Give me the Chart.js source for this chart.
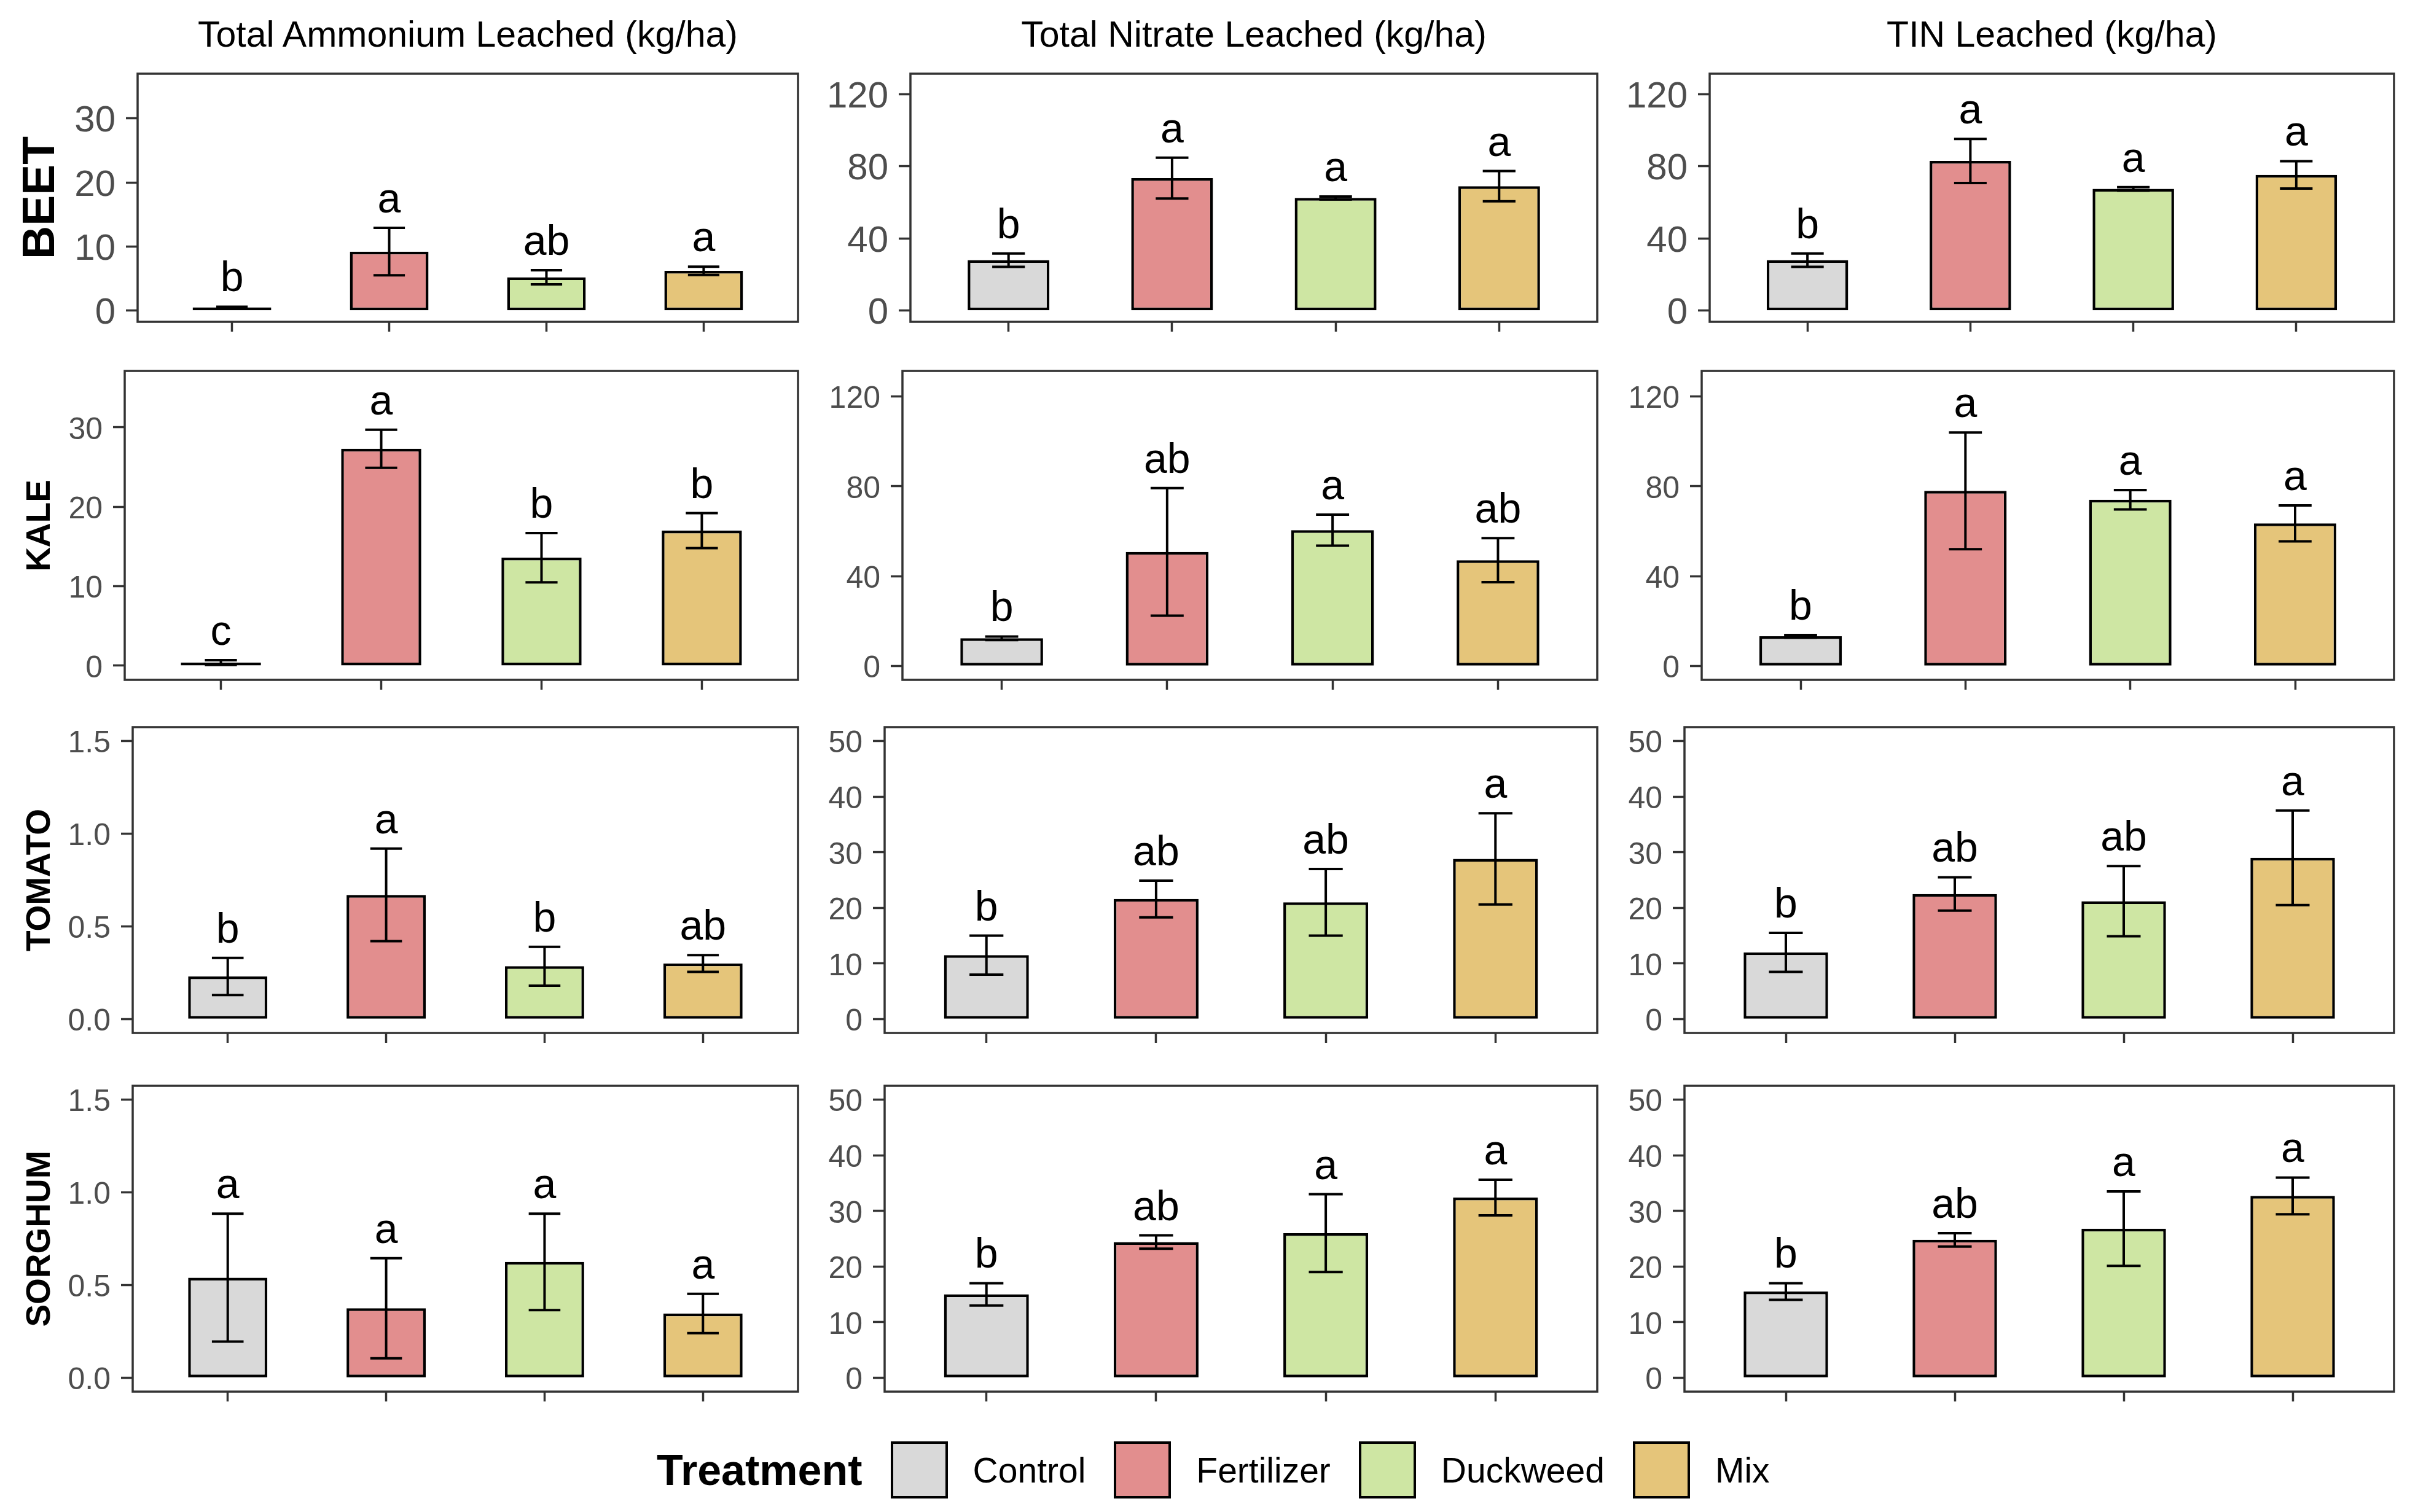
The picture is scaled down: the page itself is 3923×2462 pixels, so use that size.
<!DOCTYPE html>
<html>
<head>
<meta charset="utf-8">
<title>Nitrogen leached by crop and treatment</title>
<script src="https://cdn.jsdelivr.net/npm/chart.js@4.4.1/dist/chart.umd.min.js"></script>
<style>
  html, body { margin: 0; padding: 0; background: #fff; }
  body { width: 3923px; height: 2462px; position: relative; overflow: hidden;
         font-family: "Liberation Sans", Arial, sans-serif; }
  .panel { position: absolute; }
  .col-title { position: absolute; top: 27px; font-size: 59px; line-height: 59px; color: #000;
               white-space: nowrap; transform: translateX(-50%); }
  .row-label { position: absolute; font-weight: bold; color: #000; white-space: nowrap;
               line-height: 1; transform: translate(-50%, -50%) rotate(-90deg); }
  #legend { position: absolute; left: 1069px; top: 2347px; height: 93px;
            display: flex; align-items: center; white-space: nowrap; }
  #legend .lg-title { font-size: 70px; font-weight: bold; margin-right: 46px; }
  #legend .lg-key { width: 93px; height: 93px; box-sizing: border-box; border: 4px solid #000; }
  #legend .lg-text { font-size: 57px; margin-left: 41px; margin-right: 46px; }
</style>
</head>
<body>
<div id="legend"></div>
<script>
// ---- data ----
const treatments = ["Control", "Fertilizer", "Duckweed", "Mix"];
const crops = ["BEET", "KALE", "TOMATO", "SORGHUM"];
const measures = ["Total Ammonium Leached (kg/ha)", "Total Nitrate Leached (kg/ha)", "TIN Leached (kg/ha)"];

// rows = crops, columns = treatments
const ammoniumMean = [[0.5, 9.2, 5.2, 6.2], [0.4, 27.3, 13.6, 17.0], [0.23, 0.67, 0.285, 0.30], [0.54, 0.375, 0.625, 0.347]];
const ammoniumSE   = [[0.1, 3.7, 1.1, 0.65], [0.3, 2.4, 3.1, 2.2], [0.10, 0.25, 0.105, 0.045], [0.345, 0.27, 0.26, 0.106]];
const ammoniumLetters = [["b", "a", "ab", "a"], ["c", "a", "b", "b"], ["b", "a", "b", "ab"], ["a", "a", "a", "a"]];

const nitrateMean = [[28, 73.5, 62.5, 69], [12.3, 50.8, 60.5, 47.1], [11.5, 21.6, 21, 28.8], [15, 24.4, 26, 32.4]];
const nitrateSE   = [[3.7, 11.3, 0.8, 8.4], [0.8, 28.4, 6.9, 9.8], [3.5, 3.3, 6, 8.2], [2, 1.2, 7, 3.2]];
const nitrateLetters = [["b", "a", "a", "a"], ["b", "ab", "a", "ab"], ["b", "ab", "ab", "a"], ["b", "ab", "a", "a"]];

const tinMean = [[28, 83, 67.5, 75.3], [13.2, 78, 74, 63.5], [12, 22.5, 21.2, 29], [15.5, 24.8, 26.8, 32.7]];
const tinSE   = [[3.7, 12.2, 1, 7.6], [0.6, 26, 4.3, 8], [3.5, 3, 6.3, 8.5], [1.5, 1.2, 6.7, 3.3]];
const tinLetters = [["b", "a", "a", "a"], ["b", "a", "a", "a"], ["b", "ab", "ab", "a"], ["b", "ab", "a", "a"]];

// y axis ticks and limits per crop row
const ammoniumTicks = [[0, 10, 20, 30], [0, 10, 20, 30], [0, 0.5, 1, 1.5], [0, 0.5, 1, 1.5]];
const ammoniumLimits = [[-1.76, 36.98], [-1.78, 37.1], [-0.075, 1.575], [-0.075, 1.575]];
const nitrogenTicks = [[0, 40, 80, 120], [0, 40, 80, 120], [0, 10, 20, 30, 40, 50], [0, 10, 20, 30, 40, 50]];
const nitrogenLimits = [[-6.2, 131.4], [-6.2, 131.4], [-2.5, 52.5], [-2.5, 52.5]];

// ---- style / layout ----
const treatmentColors = ["#D9D9D9", "#E28E8E", "#CEE6A3", "#E5C57A"];
const panelTop = [120, 604, 1184, 1768];
const panelBottom = [524, 1107, 1682, 2266];
const panelLeft = [[224, 203, 216, 216], [1482, 1469, 1440, 1440], [2783, 2770, 2742, 2742]];
const panelRight = [1299, 2600, 3897];
const rowLabelSize = [75, 55, 55, 55];
const tickFontSize = [60, 50, 50, 50];
const AXIS_W = 150, AXIS_H = 30, PAD = 10;
const FONT = '"Liberation Sans", Arial, sans-serif';

const columns = [
  { mean: ammoniumMean, se: ammoniumSE, letters: ammoniumLetters, ticks: ammoniumTicks, limits: ammoniumLimits },
  { mean: nitrateMean, se: nitrateSE, letters: nitrateLetters, ticks: nitrogenTicks, limits: nitrogenLimits },
  { mean: tinMean, se: tinSE, letters: tinLetters, ticks: nitrogenTicks, limits: nitrogenLimits }
];

const errorBars = {
  id: "errorBars",
  afterDatasetsDraw(chart) {
    const ds = chart.data.datasets[0];
    const meta = chart.getDatasetMeta(0);
    const y = chart.scales.y;
    const ctx = chart.ctx;
    ctx.save();
    ctx.strokeStyle = "#000";
    ctx.fillStyle = "#000";
    ctx.lineWidth = 4;
    ctx.font = "68px " + FONT;
    ctx.textAlign = "center";
    ctx.textBaseline = "alphabetic";
    meta.data.forEach((bar, i) => {
      const v = ds.data[i].y, e = ds.se[i];
      const hi = y.getPixelForValue(v + e), lo = y.getPixelForValue(v - e);
      const half = bar.width * 0.2;
      ctx.beginPath();
      ctx.moveTo(bar.x, hi); ctx.lineTo(bar.x, lo);
      ctx.moveTo(bar.x - half, hi); ctx.lineTo(bar.x + half, hi);
      ctx.moveTo(bar.x - half, lo); ctx.lineTo(bar.x + half, lo);
      ctx.stroke();
      ctx.fillText(ds.letters[i], bar.x, hi - 25);
    });
    ctx.restore();
  }
};

const panelBorder = {
  id: "panelBorder",
  afterDraw(chart) {
    const a = chart.chartArea, ctx = chart.ctx;
    ctx.save();
    ctx.strokeStyle = "#333333";
    ctx.lineWidth = 3.5;
    ctx.strokeRect(a.left, a.top, a.right - a.left, a.bottom - a.top);
    ctx.restore();
  }
};

function makePanel(col, row) {
  const left = panelLeft[col][row], right = panelRight[col];
  const top = panelTop[row], bottom = panelBottom[row];
  const wrap = document.createElement("div");
  wrap.className = "panel";
  wrap.style.left = (left - AXIS_W) + "px";
  wrap.style.top = (top - PAD) + "px";
  wrap.style.width = (right - left + AXIS_W + PAD) + "px";
  wrap.style.height = (bottom - top + PAD + AXIS_H) + "px";
  const canvas = document.createElement("canvas");
  wrap.appendChild(canvas);
  document.body.appendChild(wrap);

  const c = columns[col];
  const tickVals = c.ticks[row];
  const lim = c.limits[row];
  const decimals = tickVals.some(v => v % 1 !== 0) ? 1 : 0;

  new Chart(canvas, {
    type: "bar",
    data: {
      datasets: [{
        data: c.mean[row].map((v, i) => ({ x: i + 1, y: v })),
        se: c.se[row],
        letters: c.letters[row],
        backgroundColor: treatmentColors,
        borderColor: "#000",
        borderWidth: 4.5,
        borderSkipped: false,
        categoryPercentage: 1,
        barPercentage: 0.5
      }]
    },
    options: {
      responsive: true,
      maintainAspectRatio: false,
      animation: false,
      layout: { padding: { left: 0, top: PAD, right: PAD, bottom: 0 } },
      plugins: { legend: { display: false }, tooltip: { enabled: false } },
      scales: {
        x: {
          type: "linear", min: 0.4, max: 4.6, offset: false,
          afterBuildTicks: s => { s.ticks = treatments.map((t, i) => ({ value: i + 1 })); },
          afterFit: s => { s.height = AXIS_H; s.paddingLeft = 0; s.paddingRight = 0; },
          grid: { offset: false, drawOnChartArea: false, drawTicks: true, tickLength: 16, tickWidth: 3.5, tickColor: "#333333" },
          border: { display: false },
          ticks: { callback: () => "", font: { size: 1 } }
        },
        y: {
          min: lim[0], max: lim[1],
          afterBuildTicks: s => { s.ticks = tickVals.map(v => ({ value: v })); },
          afterFit: s => { s.width = AXIS_W; s.paddingTop = 0; s.paddingBottom = 0; },
          grid: { drawOnChartArea: false, drawTicks: true, tickLength: 19, tickWidth: 3.5, tickColor: "#333333" },
          border: { display: false },
          ticks: {
            color: "#4D4D4D", padding: 17, labelOffset: 5,
            font: { family: FONT, size: tickFontSize[row] },
            callback: v => Number(v).toFixed(decimals)
          }
        }
      }
    },
    plugins: [errorBars, panelBorder]
  });
}

function addText() {
  measures.forEach((m, col) => {
    const d = document.createElement("div");
    d.className = "col-title";
    d.textContent = m;
    d.style.left = ((panelLeft[col][0] + panelRight[col]) / 2) + "px";
    document.body.appendChild(d);
  });
  crops.forEach((crop, row) => {
    const d = document.createElement("div");
    d.className = "row-label";
    d.textContent = crop;
    d.style.fontSize = rowLabelSize[row] + "px";
    d.style.left = "62px";
    d.style.top = ((panelTop[row] + panelBottom[row]) / 2) + "px";
    document.body.appendChild(d);
  });

  const legend = document.getElementById("legend");
  legend.innerHTML = "<span class='lg-title'>Treatment</span>";
  treatments.forEach((t, i) => {
    const key = document.createElement("span");
    key.className = "lg-key";
    key.style.background = treatmentColors[i];
    const txt = document.createElement("span");
    txt.className = "lg-text";
    txt.textContent = t;
    legend.appendChild(key);
    legend.appendChild(txt);
  });
}

window.addEventListener("DOMContentLoaded", () => {
  addText();
  for (let col = 0; col < 3; col++) {
    for (let row = 0; row < 4; row++) makePanel(col, row);
  }
});
</script>
</body>
</html>
